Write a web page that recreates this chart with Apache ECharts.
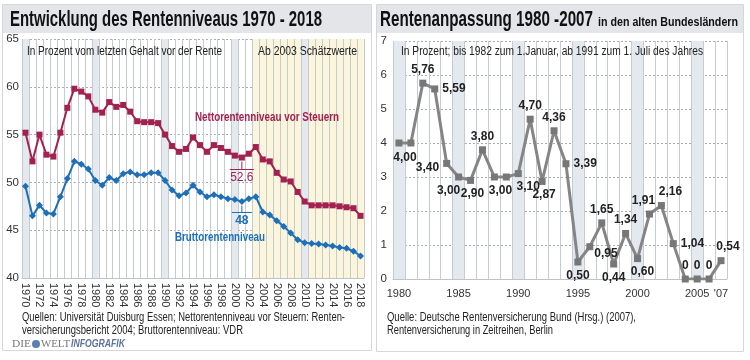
<!DOCTYPE html>
<html><head><meta charset="utf-8">
<script src="https://cdn.jsdelivr.net/npm/echarts@6/dist/echarts.min.js"></script>
<style>html,body{margin:0;padding:0;background:#fff}#c{width:750px;height:360px}</style>
</head><body><div id="c"></div>
<script>
// ---- Data ----
const leftYears = [];
for (let y = 1970; y <= 2018; y++) leftYears.push(String(y));
const nettoValues = [55.2,52.2,55.0,52.9,52.7,55.2,57.8,59.8,59.5,59.0,
  57.6,57.3,58.4,57.9,58.1,57.4,56.4,56.3,56.3,56.2,
  55.0,53.8,53.2,53.5,54.7,53.9,53.2,53.9,53.6,53.2,
  52.8,52.6,53.0,53.7,52.4,52.2,51.0,50.3,50.1,49.0,
  48.0,47.6,47.6,47.6,47.6,47.5,47.4,47.3,46.5];
const bruttoValues = [49.6,46.5,47.6,46.8,46.7,48.5,50.4,52.2,51.9,51.4,
  50.2,49.7,50.5,50.2,50.9,51.1,50.8,50.8,51.0,51.0,
  50.2,49.2,48.6,48.9,49.7,49.0,48.5,48.7,48.5,48.3,
  48.2,48.0,48.3,48.5,46.9,46.6,46.0,45.4,44.7,44.0,
  43.7,43.6,43.55,43.45,43.35,43.2,43.1,42.8,42.3];
const leftYTicks = [40,45,50,55,60,65];

const rightYears = [];
for (let y = 1980; y <= 2007; y++) rightYears.push(String(y));
const rightValues = [4.00,4.00,5.76,5.59,3.40,3.00,2.90,3.80,3.00,3.00,
  3.10,4.70,2.87,4.36,3.39,0.50,0.95,1.65,0.44,1.34,
  0.60,1.91,2.16,1.04,0,0,0,0.54];
const rightTickLabels = {'1980':'1980','1985':'1985','1990':'1990','1995':'1995','2000':'2000','2005':'2005','2007':"'07"};
const hiddenRightLabels = ['1981','1989'];

// ---- Styles ----
const SANS = "'Liberation Sans',Arial,sans-serif";
const RED = '#a3214f', BLUE = '#1d6fb7', GREY = '#858585';
const BAND = '#e4e8ef', YELLOW = '#fbf5dc', NONE = 'rgba(0,0,0,0)';

const leftBands = leftYears.map(y => {
  const n = +y;
  if (n % 10 === 0) return BAND;
  if (n >= 2003) return YELLOW;
  return NONE;
});
const rightBands = rightYears.map(y => (+y % 5 === 0) ? BAND : NONE);

const rightLabelPos = {
  '1980':['bottom',[6,1]], '1982':['top',[0,0]], '1983':['right',[0,0]],
  '1984':['left',[0,4]], '1985':['bottom',[-10,0]], '1986':['bottom',[2,0]],
  '1987':['top',[0,0]], '1988':['bottom',[6,0]], '1990':['bottom',[10,0]],
  '1991':['top',[0,0]], '1992':['bottom',[2,0]], '1993':['top',[0,0]],
  '1994':['right',[0,0]], '1995':['bottom',[0,0]], '1996':['right',[-3,7]],
  '1997':['top',[0,0]], '1998':['bottom',[0,0]], '1999':['top',[0,0]],
  '2000':['bottom',[5,0]], '2001':['top',[-6,0]], '2002':['top',[9,0]],
  '2003':['right',[0,0]], '2004':['top',[0,0]], '2005':['top',[0,0]],
  '2006':['top',[0,0]], '2007':['top',[7,0]]
};
const fmt = v => v === 0 ? '0' : v.toFixed(2).replace('.', ',');
const rightData = rightValues.map((v, i) => {
  const yr = rightYears[i];
  const p = rightLabelPos[yr];
  return {
    value: v,
    label: (hiddenRightLabels.indexOf(yr) >= 0 || !p) ? {show:false} :
      {show:true, position:p[0], offset:p[1], formatter: fmt(v)}
  };
});

const chart = echarts.init(document.getElementById('c'), null, {renderer:'canvas'});

const option = {
  animation: false,
  backgroundColor: '#fff',
  grid: [
    {left: 22, top: 39, width: 342, height: 239},
    {left: 393, top: 41, width: 334, height: 238}
  ],
  xAxis: [
    {
      type: 'category', gridIndex: 0, data: leftYears, boundaryGap: true,
      axisLine: {show: true, lineStyle: {color: '#bfc3ca'}},
      axisTick: {show: false},
      axisLabel: {interval: 1, rotate: -90, fontSize: 11, color: '#333', fontFamily: SANS, margin: 5},
      splitLine: {show: true, interval: 0, lineStyle: {color: '#c6cad1', width: 1}},
      splitArea: {show: true, interval: 0, areaStyle: {color: leftBands}}
    },
    {
      type: 'category', gridIndex: 1, data: rightYears, boundaryGap: true,
      axisLine: {show: true, lineStyle: {color: '#bfc3ca'}},
      axisTick: {show: false},
      axisLabel: {interval: 0, fontSize: 11, color: '#333', fontFamily: SANS, margin: 9,
        formatter: v => rightTickLabels[v] || ''},
      splitLine: {show: true, interval: 0, lineStyle: {color: '#c6cad1', width: 1}},
      splitArea: {show: true, interval: 0, areaStyle: {color: rightBands}}
    }
  ],
  yAxis: [
    {
      type: 'value', gridIndex: 0, min: 40, max: 65, interval: 5,
      axisLine: {show: false}, axisTick: {show: false},
      axisLabel: {fontSize: 11.5, color: '#333', fontFamily: SANS, margin: 3},
      splitLine: {show: true, lineStyle: {color: '#a9adb3', type: [2,2], width: 1}}
    },
    {
      type: 'value', gridIndex: 1, min: 0, max: 7, interval: 1,
      axisLine: {show: false}, axisTick: {show: false},
      axisLabel: {fontSize: 11.5, color: '#333', fontFamily: SANS, margin: 6},
      splitLine: {show: true, lineStyle: {color: '#a9adb3', type: [2,2], width: 1}}
    }
  ],
  series: [
    {
      name: 'Nettorentenniveau vor Steuern', type: 'line', xAxisIndex: 0, yAxisIndex: 0,
      data: nettoValues, symbol: 'rect', symbolSize: 6, showAllSymbol: true,
      lineStyle: {color: RED, width: 2}, itemStyle: {color: RED}, z: 3
    },
    {
      name: 'Bruttorentenniveau', type: 'line', xAxisIndex: 0, yAxisIndex: 0,
      data: bruttoValues, symbol: 'diamond', symbolSize: 7, showAllSymbol: true,
      lineStyle: {color: BLUE, width: 2}, itemStyle: {color: BLUE}, z: 3
    },
    {
      name: 'Rentenanpassung', type: 'line', xAxisIndex: 1, yAxisIndex: 1,
      data: rightData, symbol: 'rect', symbolSize: 7, showAllSymbol: true,
      lineStyle: {color: GREY, width: 3}, itemStyle: {color: '#777'},
      label: {fontSize: 12, fontWeight: 'bold', color: '#222', fontFamily: SANS, distance: 4},
      z: 3
    }
  ]
};
chart.setOption(option);

// ---- Annotations (graphic) ----
const pR = chart.convertToPixel({gridIndex: 0}, ['2001', nettoValues[31]]);
const pB = chart.convertToPixel({gridIndex: 0}, ['2001', bruttoValues[31]]);

const mctx = document.createElement('canvas').getContext('2d');
function fit(x, y, text, width, st) {
  const s = Object.assign({fontFamily: SANS, fontSize: 12, fontWeight: 'normal', fontStyle: 'normal', fill: '#222'}, st || {});
  mctx.font = s.fontStyle + ' ' + s.fontWeight + ' ' + s.fontSize + 'px ' + s.fontFamily;
  const w = mctx.measureText(text).width;
  const sx = width ? width / w : 1;
  return {type: 'text', x: x, y: y, scaleX: sx, silent: true,
    style: Object.assign({text: text, verticalAlign: 'middle', align: 'left'}, s)};
}

chart.setOption({
  graphic: [
    {type: 'rect', shape: {x: 2.5, y: 4.5, width: 369, height: 346}, style: {fill: 'none', stroke: '#d5d7db', lineWidth: 1}, z: -10},
    {type: 'rect', shape: {x: 376.5, y: 4.5, width: 367, height: 347}, style: {fill: 'none', stroke: '#d5d7db', lineWidth: 1}, z: -10},
    {type: 'rect', shape: {x: 3, y: 5, width: 368, height: 28}, style: {fill: '#e3e5e9'}, z: -5},
    {type: 'rect', shape: {x: 377, y: 5, width: 366, height: 28}, style: {fill: '#e3e5e9'}, z: -5},
    fit(10, 20, 'Entwicklung des Rentenniveaus 1970 - 2018', 312, {fontSize: 22, fontWeight: 'bold', fill: '#111'}),
    fit(380, 20, 'Rentenanpassung 1980 -2007', 213, {fontSize: 22, fontWeight: 'bold', fill: '#111'}),
    fit(598, 23, 'in den alten Bundesländern', 140, {fontSize: 12.5, fontWeight: 'bold', fill: '#111'}),
    fit(27, 52, 'In Prozent vom letzten Gehalt vor der Rente', 195, {fontSize: 12}),
    fit(258, 52, 'Ab 2003 Schätzwerte', 99, {fontSize: 12}),
    fit(401, 52, 'In Prozent; bis 1982 zum 1.Januar, ab 1991 zum 1. Juli des Jahres', 302, {fontSize: 12}),
    fit(195, 118, 'Nettorentenniveau vor Steuern', 144, {fontSize: 12.5, fontWeight: 'bold', fill: RED}),
    fit(175, 238, 'Bruttorentenniveau', 90, {fontSize: 12.5, fontWeight: 'bold', fill: BLUE}),
    {type: 'line', shape: {x1: pR[0], y1: pR[1] + 4, x2: pR[0], y2: 169}, style: {stroke: RED, lineWidth: 1}},
    {type: 'line', shape: {x1: pR[0] - 12, y1: 169.5, x2: pR[0] + 12, y2: 169.5}, style: {stroke: RED, lineWidth: 1}},
    {type: 'text', x: pR[0], y: 178, silent: true, style: {text: '52.6', fontFamily: SANS, fontSize: 12, fill: RED, align: 'center', verticalAlign: 'middle'}},
    {type: 'line', shape: {x1: pB[0], y1: pB[1] + 4, x2: pB[0], y2: 212}, style: {stroke: BLUE, lineWidth: 1}},
    {type: 'line', shape: {x1: pB[0] - 10, y1: 212.5, x2: pB[0] + 10, y2: 212.5}, style: {stroke: BLUE, lineWidth: 1}},
    {type: 'text', x: pB[0], y: 221, silent: true, style: {text: '48', fontFamily: SANS, fontSize: 12, fontWeight: 'bold', fill: BLUE, align: 'center', verticalAlign: 'middle'}},
    fit(22, 318, 'Quellen: Universität Duisburg Essen; Nettorentenniveau vor Steuern: Renten-', 323, {fontSize: 12}),
    fit(22, 331, 'versicherungsbericht 2004; Bruttorentenniveau: VDR', 221, {fontSize: 12}),
    fit(387, 318, 'Quelle: Deutsche Rentenversicherung Bund (Hrsg.) (2007),', 249, {fontSize: 12}),
    fit(387, 331, 'Rentenversicherung in Zeitreihen, Berlin', 166, {fontSize: 12}),
    fit(12, 344, 'DIE', 19, {fontFamily: "'Liberation Serif',serif", fontSize: 10, fill: '#777'}),
    {type: 'circle', shape: {cx: 36, cy: 344, r: 4}, style: {fill: '#5b7fb0'}},
    fit(41, 344, 'WELT', 29, {fontFamily: "'Liberation Serif',serif", fontSize: 10, fill: '#777'}),
    fit(71, 344, 'INFOGRAFIK', 54, {fontSize: 10.5, fontWeight: 'bold', fontStyle: 'italic', fill: '#5c7299'})
  ]
});
</script></body></html>
